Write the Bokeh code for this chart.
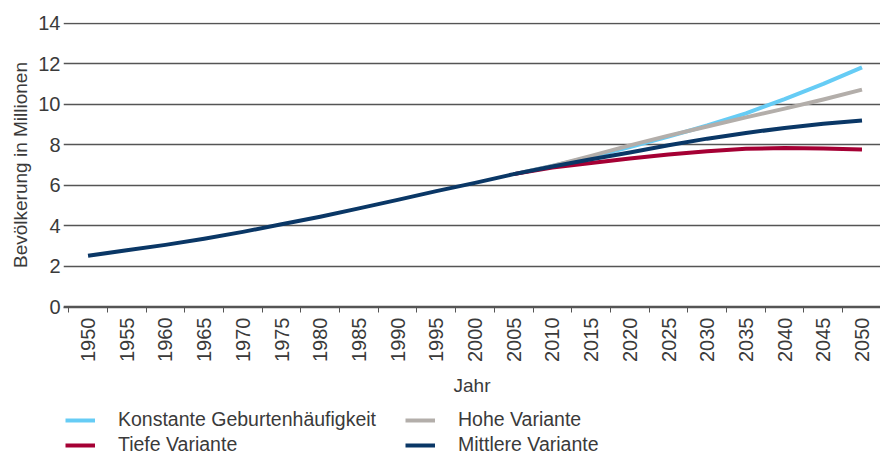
import math
from bokeh.plotting import figure
from bokeh.layouts import column
from bokeh.models import Range1d, FixedTicker, Legend, LegendItem
from bokeh.embed import file_html
from bokeh.resources import INLINE

# ---- data ----
years_hist = [1950, 1955, 1960, 1965, 1970, 1975, 1980, 1985, 1990, 1995, 2000, 2005]
mittel_hist = [2.52, 2.79, 3.06, 3.36, 3.70, 4.08, 4.45, 4.86, 5.28, 5.71, 6.12, 6.55]

years_proj = [2005, 2010, 2015, 2020, 2025, 2030, 2035, 2040, 2045, 2050]
konstant = [6.55, 6.95, 7.40, 7.88, 8.40, 8.95, 9.55, 10.25, 11.00, 11.82]
hoch = [6.55, 6.95, 7.45, 7.97, 8.45, 8.90, 9.35, 9.78, 10.23, 10.72]
mittel = [6.55, 6.93, 7.28, 7.62, 7.97, 8.30, 8.58, 8.83, 9.03, 9.20]
tief = [6.55, 6.87, 7.10, 7.32, 7.52, 7.68, 7.80, 7.84, 7.82, 7.76]

tick_years = [1950 + 5 * i for i in range(21)]
y_ticks = [0, 2, 4, 6, 8, 10, 12, 14]

labels = ["Konstante Geburtenhäufigkeit", "Hohe Variante", "Tiefe Variante", "Mittlere Variante"]
colors = ["#66CCF5", "#B3AEAA", "#A50034", "#0A3766"]

FONT = "Liberation Sans"
TXT = "#3a3a3a"
GRID = "#555555"

p = figure(width=880, height=400, output_backend="svg", toolbar_location=None,
           x_range=Range1d(1946.83, 2052.39), y_range=Range1d(-0.03, 14.03),
           min_border_left=63, min_border_right=0, min_border_top=22,
           min_border_bottom=93)
p.outline_line_color = None
p.background_fill_color = "white"
p.border_fill_color = "white"

r_k = p.line(years_proj, konstant, line_color=colors[0], line_width=4, line_join="round")
r_h = p.line(years_proj, hoch, line_color=colors[1], line_width=4, line_join="round")
r_t = p.line(years_proj, tief, line_color=colors[2], line_width=4, line_join="round")
r_m = p.line(years_hist + years_proj[1:], mittel_hist + mittel[1:],
             line_color=colors[3], line_width=4, line_join="round")

# x axis
boundaries = [y - 2.5 for y in tick_years]
p.xaxis.ticker = FixedTicker(ticks=tick_years, minor_ticks=boundaries)
p.xaxis.major_label_overrides = {y: str(y) for y in tick_years}
p.xaxis.major_label_orientation = math.pi / 2
p.xaxis.major_tick_line_color = None
p.xaxis.major_tick_out = 0
p.xaxis.major_tick_in = 0
p.xaxis.minor_tick_line_color = GRID
p.xaxis.minor_tick_in = 0
p.xaxis.minor_tick_out = 5
p.xaxis.axis_line_color = GRID
p.xaxis.axis_line_width = 1.5
p.xaxis.major_label_text_font = FONT
p.xaxis.major_label_text_font_size = "20px"
p.xaxis.major_label_text_color = TXT
p.xaxis.major_label_standoff = 5
p.xaxis.axis_label = "Jahr"
p.xaxis.axis_label_text_font = FONT
p.xaxis.axis_label_text_font_size = "19px"
p.xaxis.axis_label_text_font_style = "normal"
p.xaxis.axis_label_text_color = TXT
p.xaxis.axis_label_standoff = 10

# y axis
p.yaxis.ticker = FixedTicker(ticks=y_ticks)
p.yaxis.axis_line_color = None
p.yaxis.major_tick_line_color = None
p.yaxis.major_tick_out = 0
p.yaxis.major_tick_in = 0
p.yaxis.minor_tick_line_color = None
p.yaxis.major_label_text_font = FONT
p.yaxis.major_label_text_font_size = "20px"
p.yaxis.major_label_text_color = TXT
p.yaxis.major_label_standoff = 3
p.yaxis.axis_label = "Bevölkerung in Millionen"
p.yaxis.axis_label_text_font = FONT
p.yaxis.axis_label_text_font_size = "19px"
p.yaxis.axis_label_text_font_style = "normal"
p.yaxis.axis_label_text_color = TXT
p.yaxis.axis_label_standoff = 4

p.xgrid.visible = False
p.ygrid.ticker = FixedTicker(ticks=y_ticks)
p.ygrid.grid_line_color = GRID
p.ygrid.grid_line_width = 1.5

# ---- legend strip (its own small plot; renderers hold no visible data) ----
q = figure(width=880, height=56, output_backend="svg", toolbar_location=None,
           x_range=Range1d(0, 1), y_range=Range1d(0, 1),
           x_axis_type=None, y_axis_type=None,
           min_border_left=0, min_border_right=0, min_border_top=0, min_border_bottom=0)
q.outline_line_color = None
q.xgrid.visible = False
q.ygrid.visible = False
nan = float("nan")
lr = [q.line([nan], [nan], line_color=c, line_width=4) for c in colors]


def make_legend(items, loc):
    leg = Legend(items=items, orientation="horizontal", location=loc)
    leg.padding = 0
    leg.margin = 0
    leg.spacing = 17
    leg.glyph_width = 30
    leg.glyph_height = 16
    leg.label_height = 16
    leg.label_width = 270
    leg.label_standoff = 23
    leg.label_text_font = FONT
    leg.label_text_font_size = "19.5px"
    leg.label_text_color = TXT
    leg.border_line_color = None
    leg.background_fill_alpha = 0
    return leg


leg1 = make_legend([LegendItem(label=labels[0], renderers=[lr[0]]),
                    LegendItem(label=labels[1], renderers=[lr[1]])], (2, 25))
leg2 = make_legend([LegendItem(label=labels[2], renderers=[lr[2]]),
                    LegendItem(label=labels[3], renderers=[lr[3]])], (2, 0))
q.add_layout(leg1)
q.add_layout(leg2)

layout = column(p, q, spacing=0)
open("out.html", "w").write(file_html(layout, INLINE))
